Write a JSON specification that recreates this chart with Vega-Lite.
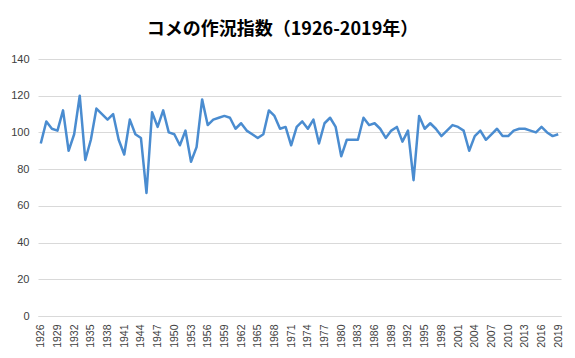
{
  "$schema": "https://vega.github.io/schema/vega-lite/v6.json",
  "width": 523,
  "height": 257,
  "autosize": {"type": "none"},
  "padding": {"left": 38, "top": 59, "right": 14, "bottom": 42},
  "background": "white",
  "title": {
    "text": "コメの作況指数（1926-2019年）",
    "font": "Noto Sans CJK JP",
    "fontSize": 18,
    "fontWeight": "bold",
    "color": "#000000",
    "anchor": "middle",
    "dx": -17,
    "offset": 14
  },
  "data": {
    "values": [
      {"year": 1926, "index": 94}, {"year": 1927, "index": 106}, {"year": 1928, "index": 102}, {"year": 1929, "index": 101},
      {"year": 1930, "index": 112}, {"year": 1931, "index": 90}, {"year": 1932, "index": 99}, {"year": 1933, "index": 120},
      {"year": 1934, "index": 85}, {"year": 1935, "index": 96}, {"year": 1936, "index": 113}, {"year": 1937, "index": 110},
      {"year": 1938, "index": 107}, {"year": 1939, "index": 110}, {"year": 1940, "index": 96}, {"year": 1941, "index": 88},
      {"year": 1942, "index": 107}, {"year": 1943, "index": 99}, {"year": 1944, "index": 97}, {"year": 1945, "index": 67},
      {"year": 1946, "index": 111}, {"year": 1947, "index": 103}, {"year": 1948, "index": 112}, {"year": 1949, "index": 100},
      {"year": 1950, "index": 99}, {"year": 1951, "index": 93}, {"year": 1952, "index": 101}, {"year": 1953, "index": 84},
      {"year": 1954, "index": 92}, {"year": 1955, "index": 118}, {"year": 1956, "index": 104}, {"year": 1957, "index": 107},
      {"year": 1958, "index": 108}, {"year": 1959, "index": 109}, {"year": 1960, "index": 108}, {"year": 1961, "index": 102},
      {"year": 1962, "index": 105}, {"year": 1963, "index": 101}, {"year": 1964, "index": 99}, {"year": 1965, "index": 97},
      {"year": 1966, "index": 99}, {"year": 1967, "index": 112}, {"year": 1968, "index": 109}, {"year": 1969, "index": 102},
      {"year": 1970, "index": 103}, {"year": 1971, "index": 93}, {"year": 1972, "index": 103}, {"year": 1973, "index": 106},
      {"year": 1974, "index": 102}, {"year": 1975, "index": 107}, {"year": 1976, "index": 94}, {"year": 1977, "index": 105},
      {"year": 1978, "index": 108}, {"year": 1979, "index": 103}, {"year": 1980, "index": 87}, {"year": 1981, "index": 96},
      {"year": 1982, "index": 96}, {"year": 1983, "index": 96}, {"year": 1984, "index": 108}, {"year": 1985, "index": 104},
      {"year": 1986, "index": 105}, {"year": 1987, "index": 102}, {"year": 1988, "index": 97}, {"year": 1989, "index": 101},
      {"year": 1990, "index": 103}, {"year": 1991, "index": 95}, {"year": 1992, "index": 101}, {"year": 1993, "index": 74},
      {"year": 1994, "index": 109}, {"year": 1995, "index": 102}, {"year": 1996, "index": 105}, {"year": 1997, "index": 102},
      {"year": 1998, "index": 98}, {"year": 1999, "index": 101}, {"year": 2000, "index": 104}, {"year": 2001, "index": 103},
      {"year": 2002, "index": 101}, {"year": 2003, "index": 90}, {"year": 2004, "index": 98}, {"year": 2005, "index": 101},
      {"year": 2006, "index": 96}, {"year": 2007, "index": 99}, {"year": 2008, "index": 102}, {"year": 2009, "index": 98},
      {"year": 2010, "index": 98}, {"year": 2011, "index": 101}, {"year": 2012, "index": 102}, {"year": 2013, "index": 102},
      {"year": 2014, "index": 101}, {"year": 2015, "index": 100}, {"year": 2016, "index": 103}, {"year": 2017, "index": 100},
      {"year": 2018, "index": 98}, {"year": 2019, "index": 99}
    ]
  },
  "mark": {"type": "line", "color": "#4a8cd0", "strokeWidth": 2.5, "strokeJoin": "round"},
  "encoding": {
    "x": {
      "field": "year",
      "type": "ordinal",
      "scale": {"type": "point", "padding": 0.5},
      "axis": {
        "title": null,
        "values": [1926, 1929, 1932, 1935, 1938, 1941, 1944, 1947, 1950, 1953, 1956, 1959, 1962, 1965, 1968, 1971, 1974, 1977, 1980, 1983, 1986, 1989, 1992, 1995, 1998, 2001, 2004, 2007, 2010, 2013, 2016, 2019],
        "labelAngle": 270,
        "labelAlign": "right",
        "labelBaseline": "middle",
        "labelFont": "Liberation Sans",
        "labelFontSize": 10.5,
        "labelColor": "#404040",
        "labelPadding": 8,
        "ticks": false,
        "domainColor": "#d9d9d9",
        "domainWidth": 1,
        "grid": false
      }
    },
    "y": {
      "field": "index",
      "type": "quantitative",
      "scale": {"domain": [0, 140], "nice": false},
      "axis": {
        "title": null,
        "values": [0, 20, 40, 60, 80, 100, 120, 140],
        "labelFont": "Liberation Sans",
        "labelFontSize": 11,
        "labelColor": "#404040",
        "labelPadding": 9,
        "ticks": false,
        "domain": false,
        "gridColor": "#d9d9d9",
        "gridWidth": 1
      }
    }
  },
  "config": {"view": {"stroke": null}}
}
